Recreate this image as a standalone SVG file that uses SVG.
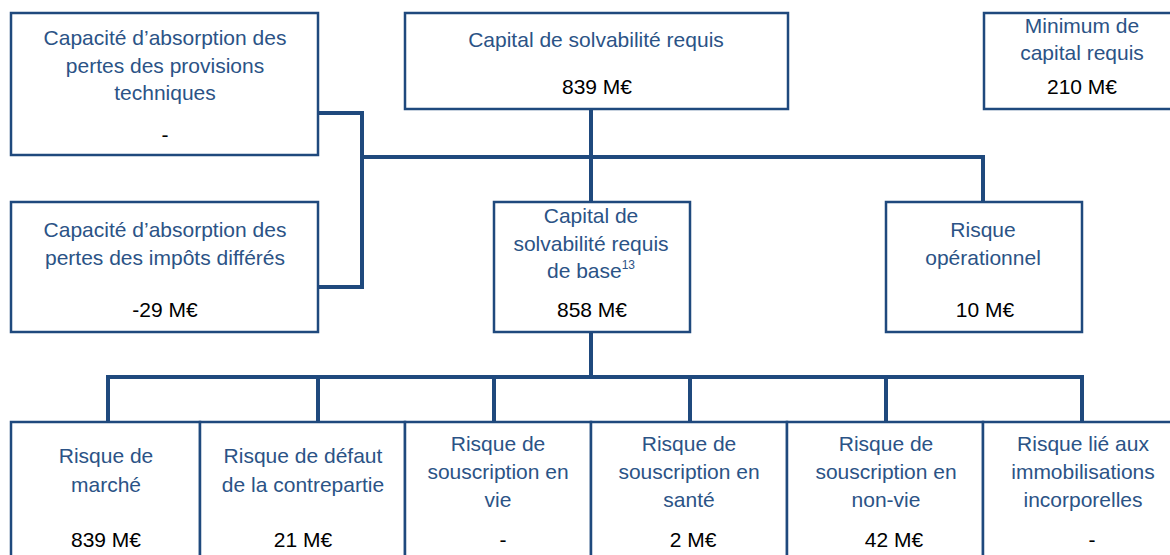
<svg xmlns="http://www.w3.org/2000/svg" width="1170" height="555" viewBox="0 0 1170 555">
<style>
.box{fill:#fff;stroke:#1F497D;stroke-width:2.5}
.lbl{font-family:"Liberation Sans",Arial,sans-serif;font-size:21px;fill:#2B5386;text-anchor:middle}
.val{font-family:"Liberation Sans",Arial,sans-serif;font-size:21px;fill:#000;text-anchor:middle}
.con{fill:none;stroke:#1F497D;stroke-width:4;stroke-linecap:square;stroke-linejoin:miter}
</style>
<rect width="1170" height="555" fill="#fff"/>
<g id="connectors">
<path class="con" d="M318 113 H362 V287 H318"/>
<path class="con" d="M362 157 H983 V202"/>
<path class="con" d="M591 109 V202"/>
<path class="con" d="M591 332 V377"/>
<path class="con" d="M108 422 V377 H1082 V422"/>
<path class="con" d="M318 377 V422 M494 377 V422 M690 377 V422 M886 377 V422"/>
</g>
<g id="node-absorption-provisions">
<rect class="box" x="11" y="13" width="307" height="142"/>
<text class="lbl" x="165" y="45">Capacité d’absorption des</text>
<text class="lbl" x="165" y="73">pertes des provisions</text>
<text class="lbl" x="165" y="100">techniques</text>
<text class="val" x="165" y="142">-</text>
</g>
<g id="node-scr">
<rect class="box" x="405" y="13" width="383" height="96"/>
<text class="lbl" x="596" y="47">Capital de solvabilité requis</text>
<text class="val" x="597" y="94">839 M€</text>
</g>
<g id="node-mcr">
<rect class="box" x="984" y="13" width="188" height="96"/>
<text class="lbl" x="1082" y="33">Minimum de</text>
<text class="lbl" x="1082" y="60">capital requis</text>
<text class="val" x="1082" y="94">210 M€</text>
</g>
<g id="node-absorption-impots">
<rect class="box" x="11" y="202" width="307" height="130"/>
<text class="lbl" x="165" y="237">Capacité d’absorption des</text>
<text class="lbl" x="165" y="265">pertes des impôts différés</text>
<text class="val" x="165" y="317">-29 M€</text>
</g>
<g id="node-bscr">
<rect class="box" x="494" y="202" width="196" height="130"/>
<text class="lbl" x="591" y="223">Capital de</text>
<text class="lbl" x="591" y="251">solvabilité requis</text>
<text class="lbl" x="591" y="278">de base<tspan font-size="12" dy="-9">13</tspan></text>
<text class="val" x="592" y="317">858 M€</text>
</g>
<g id="node-operationnel">
<rect class="box" x="886" y="202" width="196" height="130"/>
<text class="lbl" x="983" y="237">Risque</text>
<text class="lbl" x="983" y="265">opérationnel</text>
<text class="val" x="985" y="317">10 M€</text>
</g>
<g id="node-marche">
<rect class="box" x="11" y="422" width="189" height="140"/>
<text class="lbl" x="106" y="463">Risque de</text>
<text class="lbl" x="106" y="492">marché</text>
<text class="val" x="106" y="547">839 M€</text>
</g>
<g id="node-defaut">
<rect class="box" x="200" y="422" width="205" height="140"/>
<text class="lbl" x="303" y="463">Risque de défaut</text>
<text class="lbl" x="303" y="492">de la contrepartie</text>
<text class="val" x="303" y="547">21 M€</text>
</g>
<g id="node-vie">
<rect class="box" x="405" y="422" width="186" height="140"/>
<text class="lbl" x="498" y="451">Risque de</text>
<text class="lbl" x="498" y="479">souscription en</text>
<text class="lbl" x="498" y="507">vie</text>
<text class="val" x="503" y="547">-</text>
</g>
<g id="node-sante">
<rect class="box" x="591" y="422" width="196" height="140"/>
<text class="lbl" x="689" y="451">Risque de</text>
<text class="lbl" x="689" y="479">souscription en</text>
<text class="lbl" x="689" y="507">santé</text>
<text class="val" x="693" y="547">2 M€</text>
</g>
<g id="node-nonvie">
<rect class="box" x="787" y="422" width="196" height="140"/>
<text class="lbl" x="886" y="451">Risque de</text>
<text class="lbl" x="886" y="479">souscription en</text>
<text class="lbl" x="886" y="507">non-vie</text>
<text class="val" x="894" y="547">42 M€</text>
</g>
<g id="node-immobilisations">
<rect class="box" x="983" y="422" width="192" height="140"/>
<text class="lbl" x="1083" y="451">Risque lié aux</text>
<text class="lbl" x="1083" y="479">immobilisations</text>
<text class="lbl" x="1083" y="507">incorporelles</text>
<text class="val" x="1092" y="547">-</text>
</g>
</svg>
